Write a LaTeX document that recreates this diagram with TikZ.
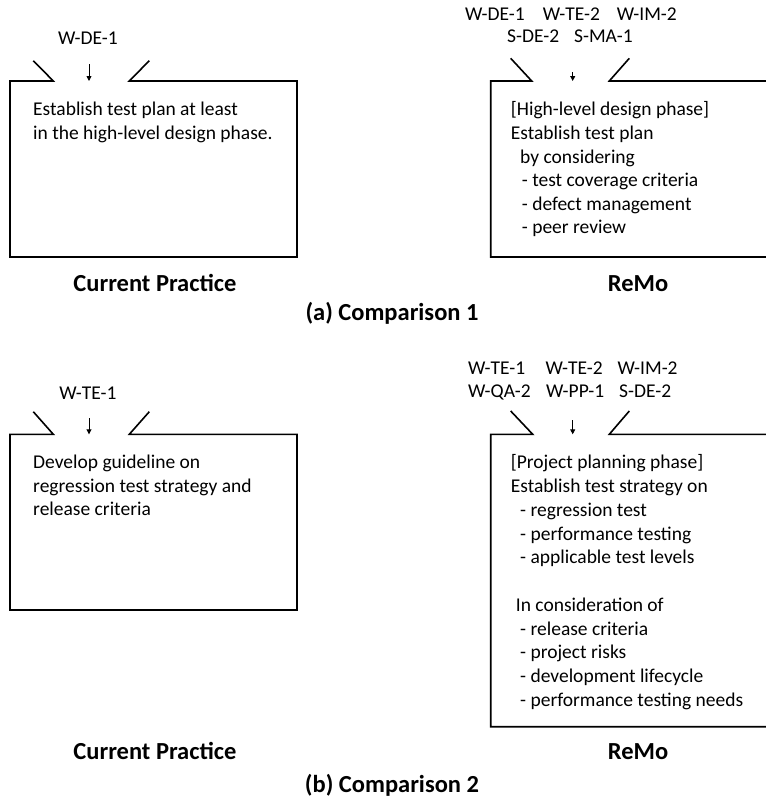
\documentclass[tikz,border=0pt]{standalone}
\usepackage{fontspec}
\setmainfont{Carlito}
\usetikzlibrary{arrows.meta}
\begin{document}
\begin{tikzpicture}[x=1pt,y=-1pt,
  frame/.style={line width=1.6pt, line join=miter},
  pointer/.style={line width=0.9pt, -{Triangle[length=5pt,width=5pt]}},
  body/.style={anchor=north west, inner sep=0pt, align=left, font=\fontsize{19.5}{23.6}\selectfont},
  code/.style={anchor=base west, inner sep=0pt, font=\fontsize{19.5}{23.6}\selectfont},
  codec/.style={anchor=base, inner sep=0pt, font=\fontsize{19.5}{23.6}\selectfont},
  caption/.style={anchor=base, inner sep=0pt, font=\fontsize{24.5}{29}\selectfont\bfseries},
]
\useasboundingbox (0,0) rectangle (766,807);
\fill[white] (0,0) rectangle (766,807);

% ---------- (a) Comparison 1 ----------
% current practice frame with opening on top
\draw[frame] (33.3,60.7) -- (53.3,81) -- (10,81) -- (10,257) -- (297,257)
  -- (297,81) -- (129.3,81) -- (149.3,60.7);
\node[codec] (aCode) at (88,44.5) {W-DE-1};
\coordinate (aFrom) at (89,64);
\coordinate (aTo) at (89,81);
\draw[pointer] (aFrom) -- (aTo);
\node[body] (aText) at (33,99.2) {\strut Establish test plan at least\\in the high-level design phase.};
\node[caption] (aCap) at (155,291) {Current Practice};

% ReMo frame, open towards the right border
\draw[frame] (510.7,58.3) -- (531.7,81) -- (490.7,81) -- (490.7,257) -- (766,257);
\draw[frame] (766,81) -- (609.3,81) -- (629.3,58.3);
\node[code] (aRemoA) at (465,20) {\makebox[77.7pt][l]{W-DE-1}\makebox[74pt][l]{W-TE-2}W-IM-2};
\node[code] (aRemoB) at (507,42.5) {\makebox[67pt][l]{S-DE-2}S-MA-1};
\coordinate (arFrom) at (572.7,72);
\coordinate (arTo) at (572.7,81);
\draw[pointer] (arFrom) -- (arTo);
\node[body] (arText) at (510.7,99.2) {\strut[High-level design phase]\\
Establish test plan\\
\hspace*{9.3pt}by considering\\
\hspace*{11pt}- test coverage criteria\\
\hspace*{11pt}- defect management\\
\hspace*{11pt}- peer review};
\node[caption] (arCap) at (638,291) {ReMo};

\node[caption] (aTitle) at (392,320) {(a) Comparison 1};

% ---------- (b) Comparison 2 ----------
\draw[frame] (33.3,411.7) -- (53.3,434.3) -- (10,434.3) -- (10,610) -- (297,610)
  -- (297,434.3) -- (129.3,434.3) -- (149.3,411.7);
\node[codec] (bCode) at (88,399) {W-TE-1};
\coordinate (bFrom) at (89,418.3);
\coordinate (bTo) at (89,434.3);
\draw[pointer] (bFrom) -- (bTo);
\node[body] (bText) at (33,452) {\strut Develop guideline on\\regression test strategy and\\release criteria};
\node[caption] (bCap) at (155,759) {Current Practice};

\draw[frame] (510.7,411) -- (532.7,434.3) -- (490.7,434.3) -- (490.7,726.7) -- (766,726.7);
\draw[frame] (766,434.3) -- (609.3,434.3) -- (629.3,411);
\node[code] (bRemoA) at (468,374.3) {\makebox[77.5pt][l]{W-TE-1}\makebox[72pt][l]{W-TE-2}W-IM-2};
\node[code] (bRemoB) at (468,397.7) {\makebox[78pt][l]{W-QA-2}\makebox[73pt][l]{W-PP-1}S-DE-2};
\coordinate (brFrom) at (572.7,420);
\coordinate (brTo) at (572.7,434.3);
\draw[pointer] (brFrom) -- (brTo);
\node[body, font=\fontsize{19.5}{23.75}\selectfont] (brText) at (510.7,452) {\strut[Project planning phase]\\
Establish test strategy on\\
\hspace*{9.3pt}- regression test\\
\hspace*{9.3pt}- performance testing\\
\hspace*{9.3pt}- applicable test levels\\[23.75pt]
\hspace*{5pt}In consideration of\\
\hspace*{9.3pt}- release criteria\\
\hspace*{9.3pt}- project risks\\
\hspace*{9.3pt}- development lifecycle\\
\hspace*{9.3pt}- performance testing needs};
\node[caption] (brCap) at (638,759) {ReMo};

\node[caption] (bTitle) at (392,792) {(b) Comparison 2};
\end{tikzpicture}
\end{document}
